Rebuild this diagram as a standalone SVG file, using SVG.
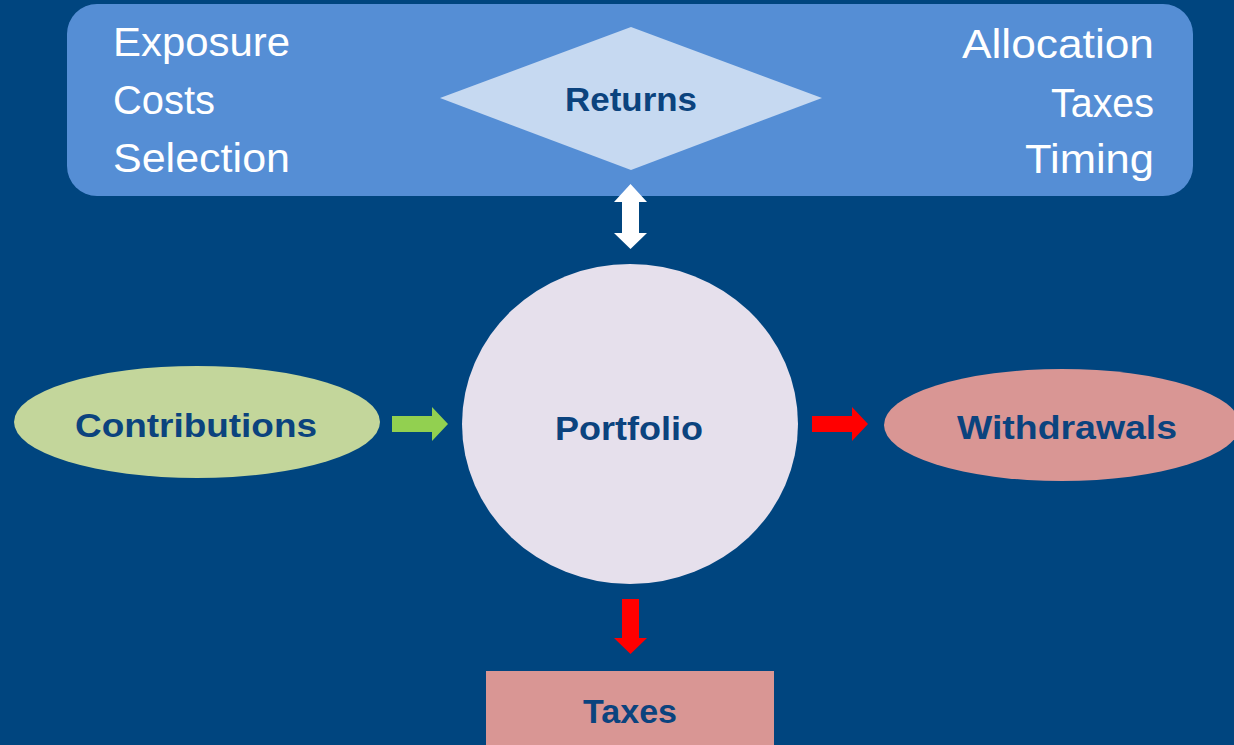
<svg xmlns="http://www.w3.org/2000/svg" width="1234" height="745" viewBox="0 0 1234 745">
  <style>
    .lbl { font-family: "Liberation Sans", Arial, sans-serif; fill: #FFFFFF; font-size: 40px; }
    .bold { font-family: "Liberation Sans", Arial, sans-serif; fill: #0B437E; font-weight: bold; text-anchor: middle; }
  </style>
  <rect width="1234" height="745" fill="#00457F"/>
  <g id="returns-panel">
    <rect x="67" y="4" width="1126" height="192" rx="30" ry="30" fill="#558ED5"/>
    <text class="lbl" x="113" y="56" textLength="177" lengthAdjust="spacingAndGlyphs">Exposure</text>
    <text class="lbl" x="113" y="114" textLength="102" lengthAdjust="spacingAndGlyphs">Costs</text>
    <text class="lbl" x="113" y="172" textLength="177" lengthAdjust="spacingAndGlyphs">Selection</text>
    <text class="lbl" x="962" y="58" textLength="192" lengthAdjust="spacingAndGlyphs">Allocation</text>
    <text class="lbl" x="1051" y="117" textLength="103" lengthAdjust="spacingAndGlyphs">Taxes</text>
    <text class="lbl" x="1025" y="173" textLength="129" lengthAdjust="spacingAndGlyphs">Timing</text>
  </g>
  <g id="returns">
    <polygon points="631,27 822,98 631,170 440,98" fill="#C6D9F1"/>
    <text class="bold" x="631" y="111" font-size="34" textLength="132" lengthAdjust="spacingAndGlyphs">Returns</text>
  </g>
  <g id="portfolio">
    <ellipse cx="630" cy="424" rx="168" ry="160" fill="#E6E0EC"/>
    <text class="bold" x="629" y="440" font-size="34" textLength="148" lengthAdjust="spacingAndGlyphs">Portfolio</text>
  </g>
  <g id="contributions">
    <ellipse cx="197" cy="422" rx="183" ry="56" fill="#C3D69B"/>
    <text class="bold" x="196" y="437" font-size="34" textLength="242" lengthAdjust="spacingAndGlyphs">Contributions</text>
  </g>
  <g id="withdrawals">
    <ellipse cx="1062" cy="425" rx="178" ry="56" fill="#D99694"/>
    <text class="bold" x="1067" y="439" font-size="34" textLength="220" lengthAdjust="spacingAndGlyphs">Withdrawals</text>
  </g>
  <g id="taxes">
    <rect x="486" y="671" width="288" height="80" fill="#D99694"/>
    <text class="bold" x="630" y="723" font-size="33" textLength="94" lengthAdjust="spacingAndGlyphs">Taxes</text>
  </g>
  <g id="connectors">
    <polygon points="630.5,184 647,202 639,202 639,233 647,233 630.5,249 614,233 622,233 622,202 614,202" fill="#FFFFFF"/>
    <polygon points="392,416 432,416 432,407 448,424 432,441 432,432 392,432" fill="#92D050"/>
    <polygon points="812,416 852,416 852,407 868,424 852,441 852,432 812,432" fill="#FF0000"/>
    <polygon points="622,599 639,599 639,638 647,638 630.5,654 614,638 622,638" fill="#FF0000"/>
  </g>
</svg>
